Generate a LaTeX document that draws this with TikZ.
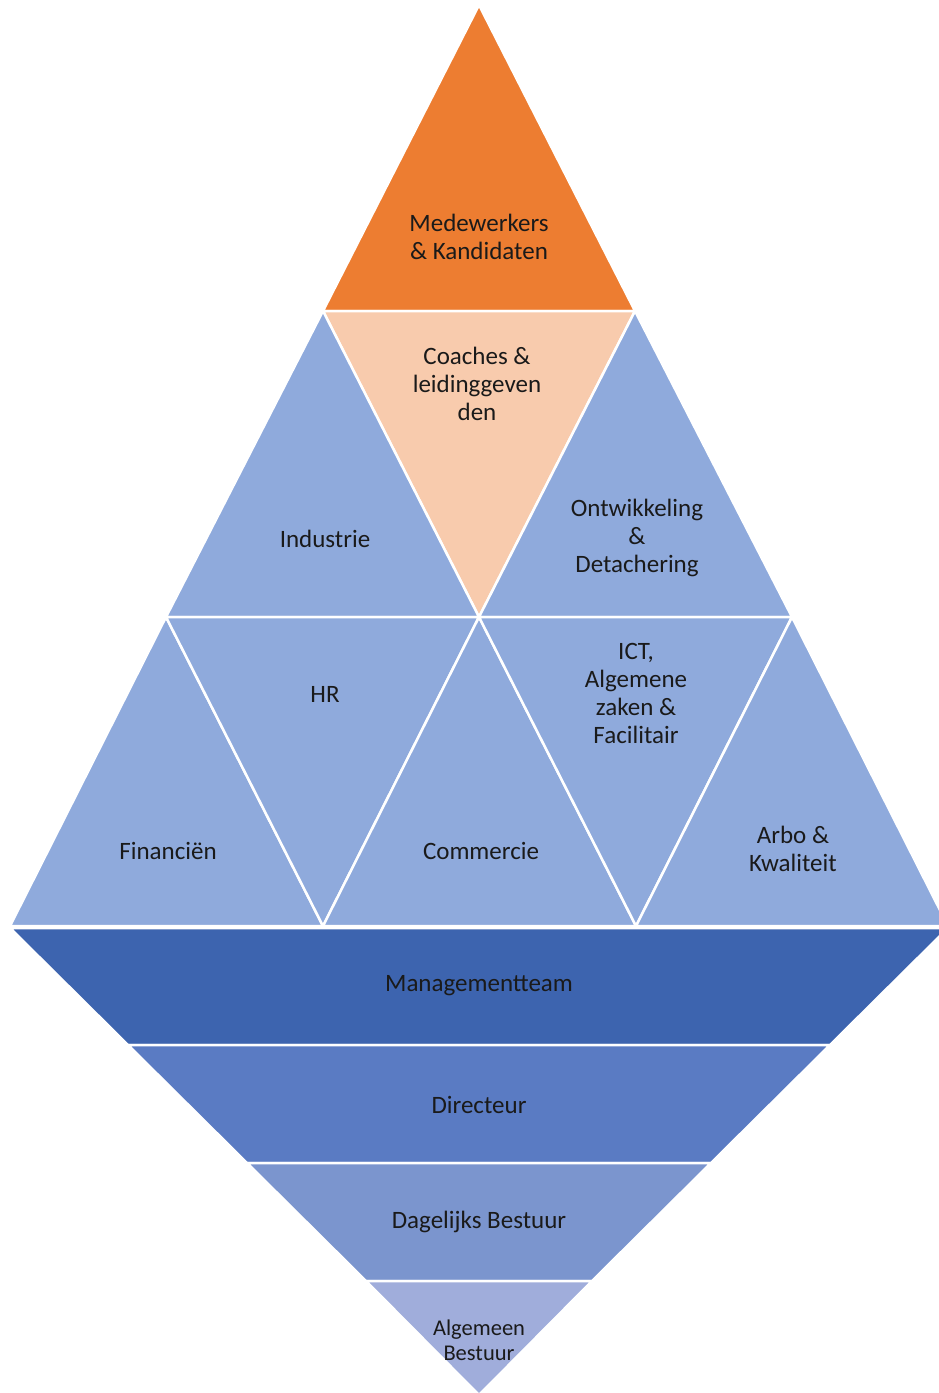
\documentclass[tikz,border=0pt]{standalone}
\usepackage{fontspec}
\setmainfont{Carlito}
\definecolor{orng}{HTML}{ED7D31}
\definecolor{peach}{HTML}{F8CBAD}
\definecolor{lblue}{HTML}{8FAADC}
\definecolor{mgmt}{HTML}{3D64AF}
\definecolor{dirc}{HTML}{5A7BC3}
\definecolor{dagb}{HTML}{7B95CE}
\definecolor{algb}{HTML}{A0ADDB}
\definecolor{txt}{HTML}{1A1A1A}
\begin{document}
\begin{tikzpicture}[x=1pt,y=-1pt,
  tri/.style={draw=white,line width=2.5pt,line join=miter},
  lbl/.style={align=center,font=\fontsize{25}{28}\selectfont,text=txt,inner sep=0pt},
  slbl/.style={align=center,font=\fontsize{22.5}{25}\selectfont,text=txt,inner sep=0pt}]
\useasboundingbox (0,0) rectangle (939,1393);
\begin{scope}
\clip (0,0) rectangle (939,1393);
% upper pyramid
\fill[orng,tri] (479,5) -- (635,311) -- (323,311) -- cycle;
\fill[peach,tri] (323,311) -- (635,311) -- (479,617) -- cycle;
\fill[lblue,tri] (323,311) -- (479,617) -- (166,617) -- cycle;
\fill[lblue,tri] (635,311) -- (792,617) -- (479,617) -- cycle;
\fill[lblue,tri] (166,617) -- (323,926) -- (10,926) -- cycle;
\fill[lblue,tri] (166,617) -- (479,617) -- (323,926) -- cycle;
\fill[lblue,tri] (479,617) -- (636,926) -- (323,926) -- cycle;
\fill[lblue,tri] (479,617) -- (792,617) -- (636,926) -- cycle;
\fill[lblue,tri] (792,617) -- (948,926) -- (636,926) -- cycle;
% lower inverted pyramid
\fill[mgmt,tri] (10,928) -- (948,928) -- (830,1045) -- (128,1045) -- cycle;
\fill[dirc,tri] (128,1045) -- (830,1045) -- (711,1163) -- (247,1163) -- cycle;
\fill[dagb,tri] (247,1163) -- (711,1163) -- (592,1281) -- (366,1281) -- cycle;
\fill[algb,tri] (366,1281) -- (592,1281) -- (479,1395) -- cycle;
\end{scope}
% labels
\node[lbl] (med) at (479,237) {Medewerkers\\\& Kandidaten};
\node[lbl] (coa) at (477,384) {Coaches \&\\leidinggeven\\den};
\node[lbl] (ind) at (325,539) {Industrie};
\node[lbl] (ont) at (637,538) {Ontwikkeling\\\&\\Detachering};
\node[lbl] (hr) at (325,694) {HR};
\node[lbl] (ict) at (636,693) {ICT,\\Algemene\\zaken \&\\Facilitair};
\node[lbl] (fin) at (168,851) {Financiën};
\node[lbl] (com) at (481,851) {Commercie};
\node[lbl] (arb) at (793,849) {Arbo \&\\Kwaliteit};
\node[lbl] (mt) at (479,986) {Managementteam};
\node[lbl] (dir) at (479,1105) {Directeur};
\node[lbl] (db) at (479,1222) {Dagelijks Bestuur};
\node[slbl] (ab) at (479,1340) {Algemeen\\Bestuur};
\end{tikzpicture}
\end{document}
